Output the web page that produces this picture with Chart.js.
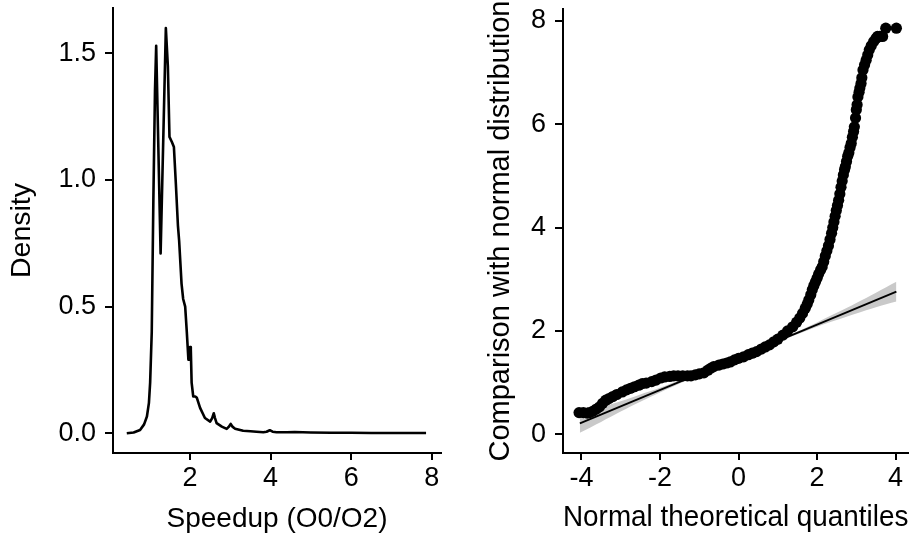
<!DOCTYPE html>
<html>
<head>
<meta charset="utf-8">
<script src="https://cdn.jsdelivr.net/npm/chart.js@4.4.1/dist/chart.umd.min.js"></script>
<style>
  html, body { margin: 0; padding: 0; background: #ffffff; }
  #wrap { position: relative; width: 914px; height: 538px; overflow: hidden; background: #fff; }
  #c1 { position: absolute; left: 0; top: 0; }
  #c2 { position: absolute; left: 460px; top: 0; }
</style>
</head>
<body>
<div id="wrap">
  <canvas id="c1" width="460" height="538"></canvas>
  <canvas id="c2" width="454" height="538"></canvas>
</div>
<script>
// ---------- Left panel: density of speedup ----------
const densX = [0.43, 0.60, 0.76, 0.86, 0.93, 0.98, 1.01, 1.05, 1.09, 1.13, 1.16, 1.27, 1.40, 1.45, 1.49, 1.55, 1.60, 1.65, 1.70, 1.73, 1.79, 1.83, 1.88, 1.92, 1.96, 1.98, 2.00, 2.02, 2.04, 2.08, 2.13, 2.17, 2.25, 2.37, 2.50, 2.55, 2.59, 2.62, 2.66, 2.79, 2.91, 2.96, 3.01, 3.06, 3.12, 3.32, 3.50, 3.65, 3.82, 3.90, 3.98, 4.05, 4.15, 4.40, 4.60, 5.00, 5.50, 6.00, 6.50, 7.00, 7.50, 7.86];
const densY = [0.000, 0.003, 0.013, 0.035, 0.066, 0.120, 0.200, 0.400, 0.920, 1.350, 1.530, 0.710, 1.600, 1.450, 1.170, 1.150, 1.130, 0.980, 0.820, 0.760, 0.590, 0.530, 0.500, 0.400, 0.290, 0.290, 0.340, 0.330, 0.200, 0.145, 0.145, 0.140, 0.100, 0.060, 0.046, 0.060, 0.079, 0.060, 0.040, 0.026, 0.017, 0.025, 0.037, 0.025, 0.018, 0.010, 0.008, 0.006, 0.004, 0.006, 0.012, 0.006, 0.004, 0.004, 0.005, 0.003, 0.002, 0.002, 0.001, 0.001, 0.001, 0.001];
const densXTicks = [2, 4, 6, 8];
const densYTicks = [0, 0.5, 1.0, 1.5];

// ---------- Right panel: normal Q-Q plot ----------
const qqTheo = [-4.06, -3.95, -3.85, -3.79, -3.70, -3.62, -3.54, -3.46, -3.38, -3.30, -3.20, -3.10, -2.96, -2.85, -2.75, -2.65, -2.54, -2.45, -2.35, -2.21, -2.10, -1.98, -1.88, -1.75, -1.65, -1.54, -1.42, -1.30, -1.21, -1.10, -1.00, -0.88, -0.78, -0.70, -0.63, -0.50, -0.40, -0.30, -0.21, -0.10, 0.00, 0.13, 0.25, 0.35, 0.46, 0.58, 0.68, 0.79, 0.90, 1.00, 1.13, 1.25, 1.38, 1.48, 1.56, 1.63, 1.70, 1.75, 1.79, 1.84, 1.88, 1.92, 1.96, 2.00, 2.04, 2.09, 2.13, 2.17, 2.21, 2.25, 2.29, 2.33, 2.37, 2.40, 2.43, 2.46, 2.49, 2.52, 2.55, 2.58, 2.61, 2.64, 2.67, 2.70, 2.72, 2.75, 2.78, 2.81, 2.84, 2.87, 2.90, 2.93, 2.95, 2.98, 3.00, 3.02, 3.04, 3.07, 3.09, 3.12, 3.14, 3.17, 3.21, 3.25, 3.29, 3.33, 3.38, 3.44, 3.50, 3.54, 3.60, 3.67, 3.75, 4.02];
const qqSample = [0.42, 0.42, 0.41, 0.42, 0.45, 0.49, 0.53, 0.60, 0.66, 0.69, 0.73, 0.77, 0.82, 0.86, 0.89, 0.92, 0.95, 0.98, 0.99, 1.02, 1.05, 1.09, 1.11, 1.12, 1.13, 1.13, 1.13, 1.13, 1.13, 1.15, 1.17, 1.19, 1.24, 1.28, 1.31, 1.34, 1.36, 1.38, 1.40, 1.44, 1.47, 1.50, 1.54, 1.57, 1.60, 1.65, 1.69, 1.73, 1.79, 1.84, 1.92, 2.00, 2.08, 2.17, 2.25, 2.34, 2.44, 2.52, 2.60, 2.70, 2.80, 2.88, 2.95, 3.02, 3.10, 3.18, 3.24, 3.34, 3.45, 3.55, 3.65, 3.77, 3.89, 4.00, 4.11, 4.22, 4.33, 4.43, 4.53, 4.65, 4.78, 4.90, 5.02, 5.12, 5.18, 5.28, 5.38, 5.45, 5.55, 5.63, 5.75, 5.86, 5.95, 6.12, 6.28, 6.38, 6.53, 6.62, 6.70, 6.79, 6.90, 7.05, 7.15, 7.24, 7.34, 7.44, 7.52, 7.60, 7.66, 7.70, 7.70, 7.70, 7.86, 7.86];
const qqLineX = [-4.04, 4.02];
const qqLineY = [0.21, 2.76];
const bandX = [-4.04, -3.5, -3.0, -2.5, -2.0, -1.5, -1.0, 0.0, 1.0, 1.5, 2.0, 2.5, 3.0, 3.5, 4.02];
const bandUpper = [0.39, 0.52, 0.64, 0.77, 0.90, 1.045, 1.19, 1.50, 1.825, 1.99, 2.165, 2.35, 2.54, 2.74, 2.95];
const bandLower = [0.03, 0.24, 0.44, 0.63, 0.81, 0.985, 1.15, 1.475, 1.785, 1.935, 2.08, 2.21, 2.34, 2.46, 2.57];
const qqXTicks = [-4, -2, 0, 2, 4];
const qqYTicks = [0, 2, 4, 6, 8];

// ---------- helpers ----------
const FONT = "'Liberation Sans', Arial, Helvetica, sans-serif";
const pts = (xs, ys) => xs.map((x, i) => ({ x: x, y: ys[i] }));
function axis(min, max, ticks, size, fmt, tickPad, title, titleSize, titlePad, tickLen) {
  return {
    type: 'linear', min: min, max: max,
    afterBuildTicks: s => { s.ticks = ticks.map(v => ({ value: v })); },
    afterFit: s => {
      if (size.w != null) s.width = size.w;
      if (size.h != null) s.height = size.h;
      s.paddingLeft = 0; s.paddingRight = 0; s.paddingTop = 0; s.paddingBottom = 0;
    },
    grid: { display: true, drawOnChartArea: false, drawTicks: true, tickLength: tickLen, color: '#000', lineWidth: 2 },
    border: { display: true, color: '#000', width: 2 },
    ticks: { color: '#000', padding: tickPad, font: { family: FONT, size: 27 }, callback: fmt, maxRotation: 0, autoSkip: false },
    title: { display: true, text: title, color: '#000', font: { family: FONT, size: titleSize }, padding: titlePad }
  };
}
Chart.defaults.animation = false;

new Chart(document.getElementById('c1'), {
  type: 'line',
  data: {
    datasets: [{
      data: pts(densX, densY), borderColor: '#000', borderWidth: 2.6, pointRadius: 0,
      tension: 0, fill: false, borderJoinStyle: 'round'
    }]
  },
  options: {
    responsive: false, devicePixelRatio: 1,
    layout: { padding: { left: 0, right: 19, top: 8, bottom: 0 } },
    plugins: { legend: { display: false }, tooltip: { enabled: false } },
    scales: {
      x: axis(0.088, 8.231, densXTicks, { w: null, h: 85 }, v => String(v), 2, 'Speedup (O0/O2)', 28, { top: 0, bottom: 2 }, 7),
      y: axis(-0.078, 1.679, densYTicks, { w: 113, h: null }, v => Number(v).toFixed(1), 9, 'Density', 28.5, { top: 5, bottom: 0 }, 8)
    }
  }
});

new Chart(document.getElementById('c2'), {
  type: 'scatter',
  data: {
    datasets: [
      { type: 'scatter', data: pts(qqTheo, qqSample), backgroundColor: '#000', borderColor: '#000', pointRadius: 5.6, borderWidth: 0, order: 1 },
      { type: 'line', data: pts(qqLineX, qqLineY), borderColor: '#000', borderWidth: 1.8, pointRadius: 0, tension: 0, fill: false, order: 2 },
      { type: 'line', data: pts(bandX, bandUpper), borderWidth: 0, borderColor: 'rgba(0,0,0,0)', pointRadius: 0, tension: 0.3, fill: '+1', backgroundColor: '#c9c9c9', order: 3 },
      { type: 'line', data: pts(bandX, bandLower), borderWidth: 0, borderColor: 'rgba(0,0,0,0)', pointRadius: 0, tension: 0.3, fill: false, order: 4 }
    ]
  },
  options: {
    responsive: false, devicePixelRatio: 1,
    layout: { padding: { left: 0, right: 0, top: 9, bottom: 0 } },
    plugins: { legend: { display: false }, tooltip: { enabled: false } },
    scales: {
      x: axis(-4.469, 4.326, qqXTicks, { w: null, h: 85 }, v => String(v), 2, 'Normal theoretical quantiles', 29.5, { top: 0, bottom: 2 }, 7),
      y: axis(-0.362, 8.231, qqYTicks, { w: 103, h: null }, v => String(v), 9, 'Comparison with normal distribution', 29, { top: 24, bottom: 0 }, 8)
    }
  }
});
</script>
</body>
</html>
